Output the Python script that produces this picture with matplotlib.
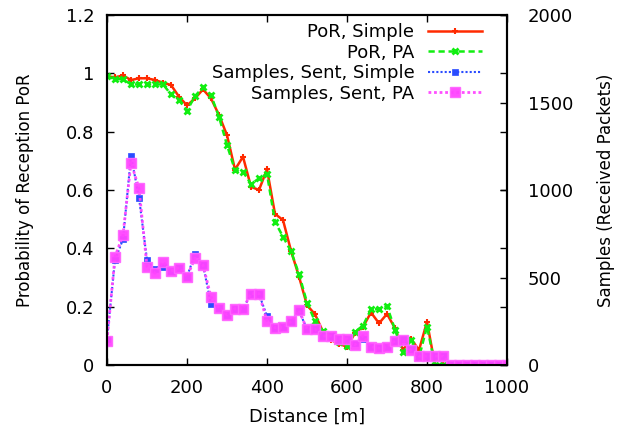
import matplotlib
matplotlib.use("Agg")
import matplotlib.pyplot as plt

plt.rcParams['font.family'] = ['DejaVu Sans']

distance = [0, 20, 40, 60, 80, 100, 120, 140, 160, 180, 200, 220, 240, 260, 280,
            300, 320, 340, 360, 380, 400, 420, 440, 460, 480, 500, 520, 540, 560,
            580, 600, 620, 640, 660, 680, 700, 720, 740, 760, 780, 800, 820, 840,
            860, 880, 900, 920, 940, 960, 980, 1000]

por_simple = [0.99, 0.986, 0.993, 0.977, 0.983, 0.983, 0.977, 0.968, 0.96, 0.92,
              0.89, 0.914, 0.945, 0.914, 0.857, 0.788, 0.67, 0.714, 0.611, 0.60,
              0.671, 0.518, 0.497, 0.392, 0.303, 0.205, 0.174, 0.114, 0.086, 0.072,
              0.063, 0.109, 0.131, 0.18, 0.143, 0.175, 0.126, 0.051, 0.09, 0.051,
              0.148, 0, 0, 0, 0, 0, 0, 0, 0, 0, 0]

por_pa = [0.99, 0.98, 0.98, 0.962, 0.962, 0.962, 0.962, 0.962, 0.928, 0.908,
          0.872, 0.922, 0.952, 0.925, 0.851, 0.754, 0.668, 0.663, 0.62, 0.64,
          0.655, 0.491, 0.44, 0.39, 0.312, 0.214, 0.15, 0.118, 0.1, 0.08,
          0.065, 0.114, 0.135, 0.191, 0.191, 0.202, 0.121, 0.043, 0.086, 0.026,
          0.132, 0, 0, 0, 0, 0, 0, 0, 0, 0, 0]

samples_simple = [150, 600, 718, 1196, 956, 600, 547, 558, 540, 556,
                  505, 634, 571, 349, 328, 286, 320, 320, 406, 406,
                  278, 213, 215, 248, 310, 204, 204, 166, 166, 149,
                  149, 125, 150, 105, 95, 105, 138, 150, 90, 51,
                  51, 51, 51, 0, 0, 0, 0, 0, 0, 0, 0]

samples_pa = [140, 619, 743, 1156, 1010, 562, 524, 589, 537, 556,
              505, 610, 571, 389, 328, 286, 322, 322, 408, 408,
              252, 213, 215, 250, 312, 204, 204, 166, 166, 149,
              149, 115, 168, 105, 95, 105, 138, 143, 83, 51,
              51, 51, 51, 0, 0, 0, 0, 0, 0, 0, 0]

RED = '#ff2a00'
GREEN = '#11ee11'
BLUE = '#2a4cff'
PINK = '#ff44ff'

FS = 13

fig = plt.figure(figsize=(6.3, 4.32), dpi=100)
ax = fig.add_axes([107/630, 1 - 365/432, 400/630, 350/432])
ax2 = ax.twinx()

l1, = ax.plot(distance, por_simple, color=RED, lw=1.8, ls='-', marker='+',
              ms=5, mew=1.5, label='PoR, Simple')
l2, = ax.plot(distance, por_pa, color=GREEN, lw=1.8, ls=(0, (2.5, 1.5)), marker='x',
              ms=5, mew=2, label='PoR, PA')
l3, = ax2.plot(distance, samples_simple, color=BLUE, lw=1.5, ls=(0, (1, 1)), marker='s',
               ms=4, mew=0.5, label='Samples, Sent, Simple')
l4, = ax2.plot(distance, samples_pa, color=PINK, lw=2, ls=(0, (1, 1)), marker='s',
               ms=7, mfc=PINK, mec='#ff66ff', mew=1, alpha=0.95,
               label='Samples, Sent, PA')

ax.set_xlim(0, 1000)
ax.set_ylim(0, 1.2)
ax2.set_ylim(0, 2000)
ax.set_xticks([0, 200, 400, 600, 800, 1000])
ax.set_yticks([0, 0.2, 0.4, 0.6, 0.8, 1.0, 1.2])
ax.set_yticklabels(['0', '0.2', '0.4', '0.6', '0.8', '1', '1.2'])
ax2.set_yticks([0, 500, 1000, 1500, 2000])

ax.tick_params(axis='both', direction='in', length=5, width=1, labelsize=FS,
               top=True, right=True)
ax.tick_params(axis='y', pad=9)
ax.tick_params(axis='x', pad=10)
ax2.tick_params(axis='y', direction='in', length=5, width=1, labelsize=FS, pad=15)

for a in (ax, ax2):
    for s in a.spines.values():
        s.set_linewidth(1.5)

ax.set_xlabel('Distance [m]', fontsize=FS)
ax.xaxis.set_label_coords(0.5, (365 - 408) / 350)
ax.set_ylabel('Probability of Reception PoR', fontsize=12)
ax.yaxis.set_label_coords((34 - 107) / 400, 0.5)
ax2.set_ylabel('Samples (Received Packets)', fontsize=12)
ax2.yaxis.set_label_coords((597 - 107) / 400, 0.5)

leg = ax2.legend(handles=[l1, l2, l3, l4], loc='upper right',
                 bbox_to_anchor=((482 - 107) / 400, (365 - 23) / 350),
                 frameon=False, markerfirst=False, fontsize=FS,
                 handlelength=3.0, handletextpad=0.75, labelspacing=0.14,
                 borderpad=0, borderaxespad=0, numpoints=1)

fig.savefig('out.png', dpi=100)
